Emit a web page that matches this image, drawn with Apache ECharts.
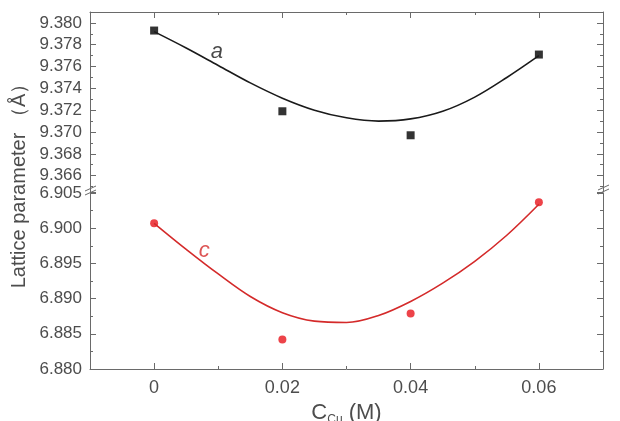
<!DOCTYPE html>
<html>
<head>
<meta charset="utf-8">
<script src="https://cdn.jsdelivr.net/npm/echarts@6/dist/echarts.min.js"></script>
<style>
  html, body { margin: 0; padding: 0; background: #fff; }
  #chart { width: 620px; height: 421px; }
</style>
</head>
<body>
<div id="chart"></div>
<script>
// measured points
const concX = [0, 0.02, 0.04, 0.06];
const latticeA = [9.3793, 9.3719, 9.3697, 9.3771];
const latticeC = [6.9007, 6.8842, 6.8879, 6.9037];

// fitted curves
const fitX = [0, 0.005, 0.01, 0.015, 0.02, 0.025, 0.03, 0.035, 0.04, 0.045, 0.05, 0.055, 0.06];
const fitA = [9.3792, 9.3777, 9.3761, 9.3745, 9.3731, 9.3720, 9.3713, 9.3710, 9.3712, 9.3719, 9.3732, 9.3750, 9.3770];
const fitC = [6.9007, 6.8970, 6.8935, 6.8903, 6.8880, 6.8868, 6.8866, 6.8876, 6.8896, 6.8922, 6.8953, 6.8990, 6.9034];

// tick labels
const xTicks = [0, 0.02, 0.04, 0.06];
const aTicks = [9.366, 9.368, 9.370, 9.372, 9.374, 9.376, 9.378, 9.380];
const cTicks = [6.880, 6.885, 6.890, 6.895, 6.900, 6.905];

// curve name anchors
const labelA = [0.0098, 9.3773];
const labelC = [0.0078, 6.8968];

const FONT = '"Liberation Sans", Arial, sans-serif';
const AXIS_COLOR = '#6a6a6a';
const TEXT_COLOR = '#4d4d4d';

const chart = echarts.init(document.getElementById('chart'));

const pick = list => v => {
    const hit = list.find(t => Math.abs(t - v) < 1e-7);
    if (hit === undefined) return '';
    return hit === 0 ? '0' : (list === xTicks ? hit.toFixed(2) : hit.toFixed(3));
};

const baseAxis = {
    type: 'value',
    axisLine: { show: true, onZero: false, lineStyle: { color: AXIS_COLOR, width: 1 } },
    axisTick: { show: true, inside: true, length: 6, lineStyle: { color: AXIS_COLOR } },
    minorTick: { show: true, splitNumber: 2, length: 3, lineStyle: { color: AXIS_COLOR } },
    splitLine: { show: false },
    minorSplitLine: { show: false }
};

const xRange = { min: -0.01, max: 0.07, minInterval: 0.02, maxInterval: 0.02 };
const aRange = { min: 9.3645, max: 9.381, minInterval: 0.002, maxInterval: 0.002 };
const cRange = { min: 6.88, max: 6.905, interval: 0.005 };

const labelStyle = { color: TEXT_COLOR, fontSize: 17, fontFamily: FONT };

const option = {
    animation: false,
    grid: [
        { left: 90, right: 17, top: 12, height: 180, containLabel: false, outerBoundsMode: 'none' },
        { left: 90, right: 17, top: 193, height: 176, containLabel: false, outerBoundsMode: 'none' }
    ],
    xAxis: [
        Object.assign({}, baseAxis, xRange, { gridIndex: 0, position: 'top', axisLabel: { show: false } }),
        Object.assign({}, baseAxis, xRange, {
            gridIndex: 1, position: 'bottom',
            axisLabel: Object.assign({ margin: 10, formatter: pick(xTicks) }, labelStyle, { fontSize: 18 }),
            name: 'C{s|Cu} (M)',
            nameLocation: 'middle',
            nameGap: 31,
            nameTextStyle: {
                color: TEXT_COLOR, fontSize: 22, fontFamily: FONT,
                rich: { s: { fontSize: 12, color: TEXT_COLOR, fontFamily: FONT, padding: [14, 0, 0, 0] } }
            }
        })
    ],
    yAxis: [
        Object.assign({}, baseAxis, aRange, {
            gridIndex: 0, position: 'left',
            axisLabel: Object.assign({ margin: 8, formatter: pick(aTicks) }, labelStyle)
        }),
        Object.assign({}, baseAxis, aRange, { gridIndex: 0, position: 'right', axisLabel: { show: false } }),
        Object.assign({}, baseAxis, cRange, {
            gridIndex: 1, position: 'left',
            axisLabel: Object.assign({ margin: 8, formatter: pick(cTicks) }, labelStyle)
        }),
        Object.assign({}, baseAxis, cRange, { gridIndex: 1, position: 'right', axisLabel: { show: false } })
    ],
    series: [
        {
            type: 'line', xAxisIndex: 0, yAxisIndex: 0,
            data: fitX.map((x, i) => [x, fitA[i]]),
            smooth: 0.35, showSymbol: false,
            lineStyle: { color: '#1a1a1a', width: 1.6 }
        },
        {
            type: 'scatter', xAxisIndex: 0, yAxisIndex: 0,
            data: concX.map((x, i) => [x, latticeA[i]]),
            symbol: 'rect', symbolSize: 8,
            itemStyle: { color: '#000' }
        },
        {
            type: 'scatter', xAxisIndex: 0, yAxisIndex: 0,
            data: [labelA], symbolSize: 0,
            label: {
                show: true, position: 'inside', formatter: 'a',
                fontSize: 22, fontStyle: 'italic', fontFamily: FONT, color: '#1a1a1a'
            }
        },
        {
            type: 'line', xAxisIndex: 1, yAxisIndex: 2,
            data: fitX.map((x, i) => [x, fitC[i]]),
            smooth: 0.35, showSymbol: false,
            lineStyle: { color: '#d42a2a', width: 1.6 }
        },
        {
            type: 'scatter', xAxisIndex: 1, yAxisIndex: 2,
            data: concX.map((x, i) => [x, latticeC[i]]),
            symbol: 'circle', symbolSize: 8,
            itemStyle: { color: '#e8141c' }
        },
        {
            type: 'scatter', xAxisIndex: 1, yAxisIndex: 2,
            data: [labelC], symbolSize: 0,
            label: {
                show: true, position: 'inside', formatter: 'c',
                fontSize: 22, fontStyle: 'italic', fontFamily: FONT, color: '#d42a2a'
            }
        }
    ],
    graphic: [
        {
            type: 'text', x: 19, y: 181, rotation: Math.PI / 2,
            style: {
                text: 'Lattice parameter （Å）', align: 'center', verticalAlign: 'middle',
                fill: TEXT_COLOR, font: '20px ' + FONT
            }
        },
        { type: 'line', shape: { x1: 85, y1: 191, x2: 96, y2: 186 }, style: { stroke: AXIS_COLOR, lineWidth: 1 } },
        { type: 'line', shape: { x1: 85, y1: 195, x2: 96, y2: 190 }, style: { stroke: AXIS_COLOR, lineWidth: 1 } },
        { type: 'line', shape: { x1: 598, y1: 190, x2: 609, y2: 185 }, style: { stroke: AXIS_COLOR, lineWidth: 1 } },
        { type: 'line', shape: { x1: 598, y1: 194, x2: 609, y2: 189 }, style: { stroke: AXIS_COLOR, lineWidth: 1 } }
    ]
};

chart.setOption(option);
</script>
</body>
</html>
